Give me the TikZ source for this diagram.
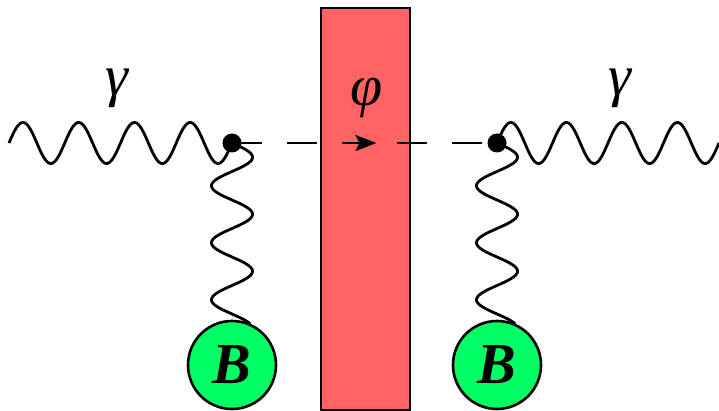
\documentclass[tikz,border=0pt]{standalone}
\usepackage{fontspec}
\setmainfont{Liberation Serif}
\usetikzlibrary{arrows.meta,decorations.markings}
\definecolor{barred}{RGB}{255,100,100}
\definecolor{blobgreen}{RGB}{0,255,100}
\begin{document}
\begin{tikzpicture}[x=1pt,y=-1pt,
  wave/.style={line width=2.8pt,smooth,samples=300},
  scalar/.style={line width=2.8pt,dash pattern=on 30pt off 25pt},
  vertexdot/.style={circle,fill=black,inner sep=0pt,minimum size=19pt},
  blob/.style={circle,draw=black,line width=2.6pt,fill=blobgreen,minimum size=88pt,inner sep=0pt,
    font=\fontsize{58}{60}\selectfont\bfseries\itshape},
  lbl/.style={font=\fontsize{58}{60}\selectfont\itshape,inner sep=0pt},
  barrier/.style={draw=black,line width=2.2pt,fill=barred}]
\useasboundingbox (0,0) rectangle (719,411);
% barrier
\draw[barrier] (321,8) rectangle (410,410);
% named points
\coordinate (v1) at (232,143);
\coordinate (v2) at (497,143);
\coordinate (inL) at (9,143);
\coordinate (outR) at (719,143);
\node[blob] (b1) at (232,365) {B};
\node[blob] (b2) at (497,365) {B};
% scalar line with arrow
\draw[scalar,postaction={decorate,decoration={markings,
   mark=at position 0.545 with {\arrow{Stealth[length=21pt,width=16pt,inset=4pt]}}}}] (v1) -- (v2);
% photons
\begin{scope}[shift={(inL)}]
\draw[wave] plot[domain=0:223] (\x,{-20.5*sin(\x/55.75*360)});
\end{scope}
\begin{scope}[shift={(v2)}]
\draw[wave] plot[domain=0:222] (\x,{-20.5*sin(\x/55.5*360)});
\end{scope}
% background field legs
\begin{scope}[shift={(v1)}]
\draw[wave] plot[domain=0:181] ({20.5*sin(\x/57*360)},\x);
\end{scope}
\begin{scope}[shift={(v2)}]
\draw[wave] plot[domain=0:181] ({20.5*sin(\x/57*360)},\x);
\end{scope}
\node[vertexdot] (d1) at (v1) {};
\node[vertexdot] (d2) at (v2) {};
% labels
\node[lbl] (g1) at (117,88) {γ};
\node[lbl] (g2) at (620,88) {γ};
\node[lbl] (phi) at (367,98) {φ};
\end{tikzpicture}
\end{document}
